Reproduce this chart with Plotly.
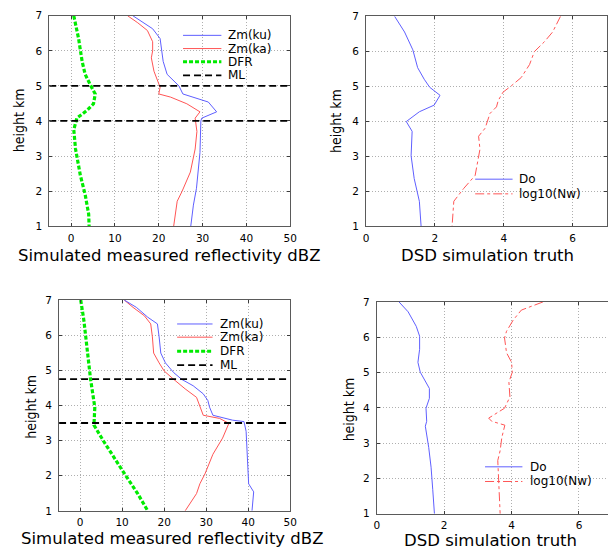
import plotly.graph_objects as go

W, H = 615, 555

# ---------------- data ----------------
# Top-left: simulated measured reflectivity (case 1)
tl_ku_x = [14.1, 18.6, 20.3, 20.7, 21.0, 21.9, 23.4, 24.6, 25.5, 31.3, 33.2, 29.8, 29.6, 29.4, 28.6, 27.9, 27.3]
tl_ku_y = [7.0, 6.63, 6.35, 6.03, 5.7, 5.33, 5.14, 5.0, 4.77, 4.54, 4.26, 4.08, 4.0, 3.1, 2.08, 1.6, 1.0]
tl_ka_x = [12.9, 15.2, 17.4, 18.6, 18.6, 18.3, 18.9, 19.7, 20.3, 20.0, 22.7, 26.4, 29.4, 28.3, 28.7, 28.3, 27.2, 25.3, 24.2, 23.4]
tl_ka_y = [7.0, 6.8, 6.58, 6.26, 6.0, 5.8, 5.42, 5.14, 4.96, 4.77, 4.68, 4.49, 4.26, 4.08, 3.7, 3.2, 2.54, 1.99, 1.71, 1.0]
tl_dfr_x = [0.6, 1.7, 2.5, 3.2, 4.3, 5.5, 5.1, 3.6, 1.3, 0.6, 1.0, 2.1, 3.2, 4.0, 4.1]
tl_dfr_y = [7.0, 6.35, 5.7, 5.33, 5.05, 4.77, 4.49, 4.3, 4.08, 3.75, 3.2, 2.45, 1.9, 1.34, 1.0]
tl_ml = [5.0, 4.0]

# Top-right: DSD simulation truth (case 1)
tr_do_x = [0.83, 1.12, 1.36, 1.5, 1.69, 1.85, 2.15, 1.98, 1.55, 1.17, 1.34, 1.31, 1.4, 1.55, 1.6]
tr_do_y = [7.0, 6.55, 6.04, 5.53, 5.2, 4.97, 4.74, 4.46, 4.27, 3.99, 3.71, 3.01, 2.36, 1.71, 1.0]
tr_nw_x = [5.65, 5.42, 5.18, 4.89, 4.75, 4.51, 4.22, 3.98, 3.84, 3.79, 3.6, 3.55, 3.46, 3.27, 3.31, 3.17, 2.84, 2.55, 2.5]
tr_nw_y = [7.0, 6.55, 6.27, 5.99, 5.62, 5.25, 5.01, 4.83, 4.59, 4.41, 4.22, 4.08, 3.8, 3.57, 3.2, 2.45, 2.08, 1.71, 1.0]

# Bottom-left: simulated measured reflectivity (case 2)
bl_ku_x = [10.5, 13.4, 16.1, 18.4, 18.8, 19.2, 20.3, 22.3, 24.2, 26.9, 29.3, 30.4, 30.8, 31.6, 36.3, 39.0, 39.5, 39.7, 40.1, 41.3, 40.9]
bl_ku_y = [7.0, 6.79, 6.51, 6.32, 5.95, 5.49, 5.21, 4.93, 4.74, 4.56, 4.33, 4.14, 3.95, 3.72, 3.58, 3.54, 3.26, 2.61, 1.77, 1.54, 1.0]
bl_ka_x = [10.5, 12.6, 15.3, 16.8, 17.2, 17.5, 18.8, 20.0, 22.3, 25.0, 27.7, 28.5, 29.3, 33.2, 35.4, 33.9, 31.6, 29.7, 28.5, 27.7, 25.0]
bl_ka_y = [7.0, 6.79, 6.55, 6.32, 5.95, 5.49, 5.21, 4.98, 4.74, 4.47, 4.23, 3.95, 3.72, 3.63, 3.49, 3.07, 2.61, 2.05, 1.77, 1.49, 1.0]
bl_dfr_x = [0.15, 0.9, 1.7, 2.5, 3.5, 3.3, 5.6, 7.5, 10.6, 13.7, 16.1]
bl_dfr_y = [7.0, 6.42, 5.58, 4.74, 3.95, 3.44, 2.98, 2.61, 2.05, 1.49, 1.0]
bl_ml = [4.75, 3.5]

# Bottom-right: DSD simulation truth (case 2)
br_do_x = [0.66, 0.93, 1.17, 1.27, 1.27, 1.22, 1.29, 1.56, 1.56, 1.46, 1.48, 1.44, 1.54, 1.61, 1.66, 1.71]
br_do_y = [7.0, 6.72, 6.31, 6.03, 5.66, 5.29, 5.01, 4.55, 4.27, 3.99, 3.62, 3.48, 2.88, 2.32, 1.68, 1.0]
br_nw_x = [4.93, 4.68, 4.29, 4.05, 3.85, 3.79, 3.85, 4.0, 4.02, 3.92, 3.95, 3.79, 3.56, 3.32, 3.41, 3.8, 3.71, 3.66, 3.59, 3.61, 3.66]
br_nw_y = [7.0, 6.91, 6.77, 6.49, 6.17, 5.98, 5.56, 5.29, 5.01, 4.73, 4.31, 3.99, 3.85, 3.71, 3.62, 3.51, 3.16, 2.79, 2.51, 1.95, 1.0]

refl_ticks = [0, 10, 20, 30, 40, 50]
dsd_ticks = [0, 2, 4, 6]
height_ticks = [1, 2, 3, 4, 5, 6, 7]
refl_legend = ["Zm(ku)", "Zm(ka)", "DFR", "ML"]
dsd_legend = ["Do", "log10(Nw)"]

# ---------------- styles ----------------
BLUE = "rgb(95,95,255)"
RED = "rgb(255,85,85)"
GREEN = "rgb(0,235,0)"
BLACK = "black"
GREEN_DASH = "4px,2px"
ML_DASH = "7px,4px"
TICKFONT = dict(family="DejaVu Sans, Liberation Sans, Arial", size=10.5, color="black")
TITLEFONT = dict(family="DejaVu Sans, Liberation Sans, Arial", size=16.5, color="black")
LEGFONT = dict(family="DejaVu Sans, Liberation Sans, Arial", size=12, color="black")
YLABFONT = dict(family="Liberation Sans Narrow, DejaVu Sans Condensed, Arial Narrow, Liberation Sans", size=14, color="black")

def px2x(px):
    return px / W

def px2y(py):
    return 1 - py / H

# panel geometry (pixels): left, right, top, bottom
panels = {
    1: (47, 292, 10, 225),
    2: (369, 614, 10.5, 225),
    3: (57, 292, 300.5, 516),
    4: (380, 615, 302.5, 519),
}

fig = go.Figure()

def add_line(n, x, y, color, dash="solid", width=1.0):
    xa = "x" if n == 1 else f"x{n}"
    ya = "y" if n == 1 else f"y{n}"
    fig.add_trace(go.Scatter(x=x, y=y, mode="lines", xaxis=xa, yaxis=ya,
                             line=dict(color=color, dash=dash, width=width),
                             showlegend=False, hoverinfo="skip"))

# Top-left
add_line(1, tl_dfr_x, tl_dfr_y, GREEN, GREEN_DASH, 3.2)
add_line(1, tl_ka_x, tl_ka_y, RED)
add_line(1, tl_ku_x, tl_ku_y, BLUE)
for lvl in tl_ml:
    add_line(1, [-5, 50], [lvl, lvl], BLACK, ML_DASH, 1.8)
# Top-right
add_line(2, tr_do_x, tr_do_y, BLUE)
add_line(2, tr_nw_x, tr_nw_y, RED, "dashdot")
# Bottom-left
add_line(3, bl_dfr_x, bl_dfr_y, GREEN, GREEN_DASH, 3.2)
add_line(3, bl_ka_x, bl_ka_y, RED)
add_line(3, bl_ku_x, bl_ku_y, BLUE)
for lvl in bl_ml:
    add_line(3, [-5, 50], [lvl, lvl], BLACK, ML_DASH, 1.8)
# Bottom-right
add_line(4, br_do_x, br_do_y, BLUE)
add_line(4, br_nw_x, br_nw_y, RED, "dashdot")

layout = dict(width=W, height=H, margin=dict(l=0, r=0, t=0, b=0),
              paper_bgcolor="white", plot_bgcolor="white", showlegend=False)

axis_common = dict(showgrid=True, gridcolor="rgb(175,175,175)", griddash="1px,2px", gridwidth=1,
                   showline=True, linecolor="rgb(90,90,90)", linewidth=1, mirror="ticks",
                   ticks="inside", ticklen=3, tickcolor="rgb(60,60,60)",
                   zeroline=False, tickfont=TICKFONT, fixedrange=True)

xranges = {1: [-5, 50], 2: [0, 7], 3: [-5, 50], 4: [0, 7 * 235 / 239.75]}
xticks = {1: refl_ticks, 2: dsd_ticks, 3: refl_ticks, 4: dsd_ticks}
for n, (l, r, t, b) in panels.items():
    xk = "xaxis" if n == 1 else f"xaxis{n}"
    yk = "yaxis" if n == 1 else f"yaxis{n}"
    ya = "y" if n == 1 else f"y{n}"
    xa = "x" if n == 1 else f"x{n}"
    layout[xk] = dict(axis_common, domain=[px2x(l), px2x(r)], range=xranges[n],
                      tickvals=xticks[n], anchor=ya, ticklabelstandoff=2)
    layout[yk] = dict(axis_common, domain=[px2y(b), px2y(t)], range=[1, 7],
                      tickvals=height_ticks, anchor=xa, ticklabelstandoff=4)
# the right edge of the last panel is cut off by the figure border
layout["yaxis4"]["mirror"] = False

fig.update_layout(**layout)

annotations = []
shapes = []

# axis titles
titles = [
    ("Simulated measured reflectivity dBZ", 169, 255),
    ("DSD simulation truth", 493, 255),
    ("Simulated measured reflectivity dBZ", 172, 544),
    ("DSD simulation truth", 496, 546),
]
for txt, cx, cy in titles:
    annotations.append(dict(text=txt, x=px2x(cx), y=px2y(cy), xref="paper", yref="paper",
                            showarrow=False, font=TITLEFONT, xanchor="center", yanchor="middle"))
ylabels = [(17, 117), (29, 410), (339, 117), (352, 412)]
for cx, cy in ylabels:
    annotations.append(dict(text="height km", x=px2x(cx), y=px2y(cy), xref="paper", yref="paper",
                            showarrow=False, font=YLABFONT, textangle=-90,
                            xanchor="center", yanchor="middle"))

# legends (drawn in paper coordinates)
def legend(box, rows, sample_x0, sample_x1, text_x, labels, styles):
    bx0, bx1, by0, by1 = box
    shapes.append(dict(type="rect", xref="paper", yref="paper", x0=px2x(bx0), x1=px2x(bx1),
                       y0=px2y(by1), y1=px2y(by0), fillcolor="white", line=dict(width=0),
                       layer="between"))
    for ry, lab, (col, dash, wid) in zip(rows, labels, styles):
        shapes.append(dict(type="line", xref="paper", yref="paper",
                           x0=px2x(sample_x0), x1=px2x(sample_x1), y0=px2y(ry), y1=px2y(ry),
                           line=dict(color=col, dash=dash, width=wid)))
        annotations.append(dict(text=lab, x=px2x(text_x), y=px2y(ry), xref="paper", yref="paper",
                                showarrow=False, font=LEGFONT, xanchor="left", yanchor="middle"))

refl_styles = [(BLUE, "solid", 1), (RED, "solid", 1), (GREEN, GREEN_DASH, 3), (BLACK, ML_DASH, 1.8)]
dsd_styles = [(BLUE, "solid", 1), (RED, "dashdot", 1)]

legend((180, 282, 22, 78), [30, 43.5, 57, 71], 183, 222, 227, refl_legend, refl_styles)
legend((477, 600, 170, 199), [177, 192], 480, 518, 522, dsd_legend, dsd_styles)
legend((174, 275, 318, 373), [325, 338.5, 353, 367], 177, 213, 219, refl_legend, refl_styles)
legend((487, 612, 464, 493), [471, 486], 490, 528, 534, dsd_legend, dsd_styles)

fig.update_layout(annotations=annotations, shapes=shapes)

fig.write_html("out.html")
